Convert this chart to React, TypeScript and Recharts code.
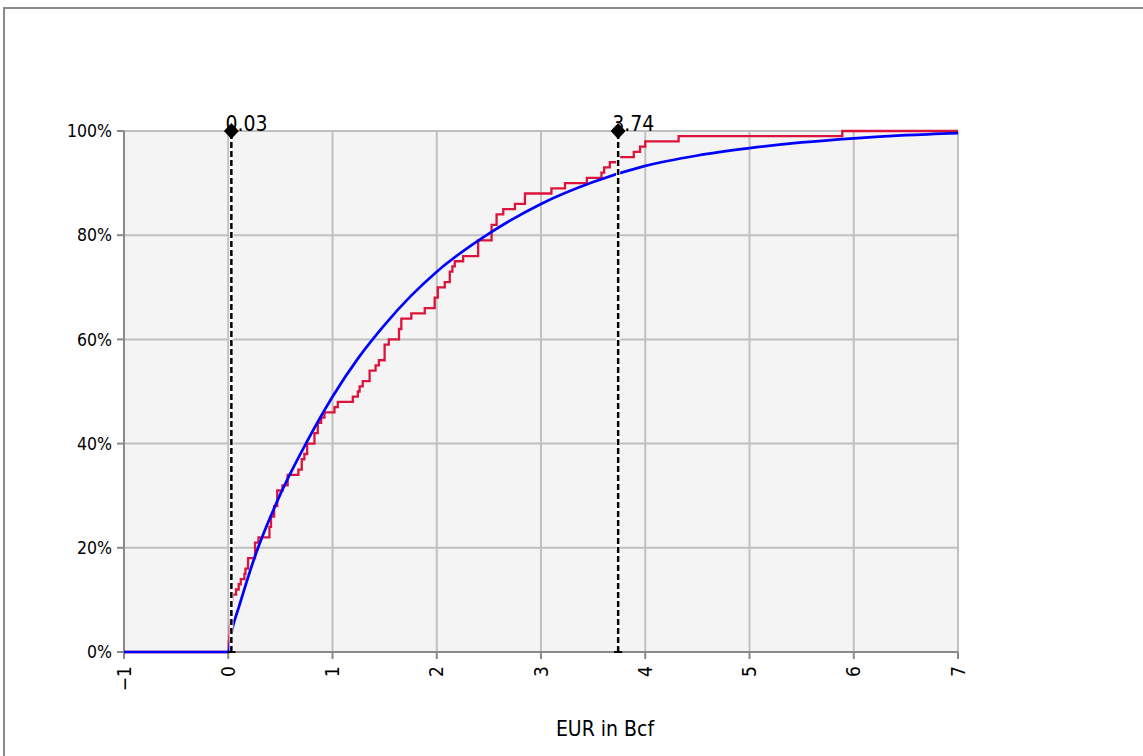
import { ComposedChart, Line, Scatter, XAxis, YAxis, CartesianGrid, ReferenceLine } from 'recharts';

const FONT = "Tahoma, 'DejaVu Sans Condensed', 'DejaVu Sans', sans-serif";

const xTicks = [-1, 0, 1, 2, 3, 4, 5, 6, 7];
const yTicks = [0, 20, 40, 60, 80, 100];

// empirical CDF: EUR (Bcf) where each step happens, cumulative % after the step
const stepEur = [
  -1, 0, 0.005, 0.01, 0.015, 0.02, 0.025, 0.03, 0.035, 0.04, 0.075, 0.1, 0.12, 0.155, 0.165, 0.19,
  0.257, 0.29, 0.395, 0.41, 0.44, 0.47, 0.52, 0.57, 0.673, 0.705, 0.73, 0.757, 0.827, 0.859, 0.891,
  0.923, 1.019, 1.051, 1.195, 1.243, 1.26, 1.29, 1.356, 1.413, 1.445, 1.5, 1.54, 1.638, 1.66, 1.756,
  1.885, 1.98, 2.01, 2.077, 2.125, 2.15, 2.173, 2.253, 2.397, 2.526, 2.574, 2.638, 2.75, 2.846, 3.1,
  3.23, 3.44, 3.58, 3.606, 3.66, 3.74, 3.89, 3.95, 4.0, 4.32, 5.89, 7,
];
const stepPct = [
  0, 0, 2, 3, 5, 6, 8, 9, 10, 11, 12, 13, 14, 15, 16, 18,
  21, 22, 24, 26, 28, 31, 32, 34, 35, 37, 38, 40, 42, 44, 45,
  46, 47, 48, 49, 50, 51, 52, 54, 55, 56, 59, 60, 62, 64, 65,
  66, 68, 70, 71, 73, 74, 75, 76, 79, 82, 84, 85, 86, 88, 89,
  90, 91, 92, 93, 94, 95, 96, 97, 98, 99, 100, 100,
];

// fitted distribution CDF
const fitEur = [-1, 0, 0.04, 0.1, 0.25, 0.5, 0.75, 1, 1.25, 1.5, 1.75, 2, 2.5, 3, 3.5, 4, 4.5, 5, 5.5, 6, 6.5, 7];
const fitPct = [0, 0, 4.5, 8.5, 18, 30.3, 40.2, 49, 56.5, 62.8, 68.3, 73, 80.3, 86, 90.2, 93.3, 95.3, 96.7, 97.8, 98.6, 99.2, 99.6];

// P10 / P90 markers
const markerEur = [0.03, 3.74];

const empirical = stepEur.map((x, i) => ({ x, p: stepPct[i] }));
const fitted = fitEur.map((x, i) => ({ x, p: fitPct[i] }));
const markers = markerEur.map((x) => ({ x, p: 100 }));

function XTick({ x, y, payload }: any) {
  return (
    <text
      x={x}
      y={y}
      transform={`rotate(-90, ${x}, ${y})`}
      textAnchor="end"
      dy="0.35em"
      fontSize={19}
      fontFamily={FONT}
      fill="#000"
    >
      {String(payload.value).replace('-', '\u2212')}
    </text>
  );
}

const dropLine = (props: any) => {
  const { x1, y1, x2, y2 } = props;
  const bottom = Math.max(y1, y2);
  return (
    <g>
      <line x1={x1} y1={y1} x2={x2} y2={y2} stroke="#fff" strokeWidth={4} />
      <line x1={x1} y1={y1} x2={x2} y2={y2} stroke="#000" strokeWidth={2.5} strokeDasharray="6 3" />
      <line x1={x1 - 4} y1={bottom} x2={x1 + 4} y2={bottom} stroke="#000" strokeWidth={2} />
    </g>
  );
};

const Marker = (props: any) => {
  const { cx, cy, payload } = props;
  return (
    <g>
      <text x={cx - 6} y={cy} fontSize={21} fontFamily={FONT} fill="#000">
        {payload.x.toFixed(2)}
      </text>
      <polygon points={`${cx},${cy - 8} ${cx + 7.5},${cy} ${cx},${cy + 8} ${cx - 7.5},${cy}`} fill="#000" />
    </g>
  );
};

export default function App() {
  return (
    <div style={{ position: 'absolute', left: 0, top: 0, width: 1143, height: 756, background: '#fff' }}>
      <div
        style={{
          position: 'absolute',
          left: 3,
          top: 7,
          width: 1140,
          height: 749,
          boxSizing: 'border-box',
          borderTop: '2px solid #8a8a8a',
          borderLeft: '2px solid #8a8a8a',
        }}
      />
      <div style={{ position: 'absolute', left: 0, top: 0 }}>
        <ComposedChart width={1143} height={756} margin={{ top: 131, right: 185, bottom: 44, left: 24 }}>
          <CartesianGrid stroke="#c0c0c0" strokeWidth={2} fill="#f4f4f4" />
          <XAxis
            type="number"
            dataKey="x"
            domain={[-1, 7]}
            ticks={xTicks}
            allowDataOverflow
            height={60}
            tickSize={7}
            tickMargin={7}
            tick={<XTick />}
            axisLine={{ stroke: '#8a8a8a', strokeWidth: 2 }}
            tickLine={{ stroke: '#8a8a8a', strokeWidth: 2 }}
            label={{ value: 'EUR in Bcf', position: 'bottom', offset: 9, dx: 64, fill: '#000', fontSize: 21, fontFamily: FONT }}
          />
          <YAxis
            type="number"
            domain={[0, 100]}
            ticks={yTicks}
            width={100}
            tickSize={7}
            tickMargin={5}
            tickFormatter={(v: number) => `${v}%`}
            tick={{ fill: '#000', fontSize: 17.5, fontFamily: FONT }}
            axisLine={{ stroke: '#8a8a8a', strokeWidth: 2 }}
            tickLine={{ stroke: '#8a8a8a', strokeWidth: 2 }}
          />
          <Line
            data={empirical}
            dataKey="p"
            type="stepAfter"
            stroke="#dc143c"
            strokeWidth={2.3}
            dot={false}
            isAnimationActive={false}
            zIndex={600}
          />
          <Line
            data={fitted}
            dataKey="p"
            type="monotone"
            stroke="#0000ff"
            strokeWidth={2.7}
            dot={false}
            isAnimationActive={false}
            zIndex={610}
          />
          {markerEur.map((v) => (
            <ReferenceLine key={v} x={v} shape={dropLine} zIndex={620} />
          ))}
          <Scatter data={markers} dataKey="p" shape={<Marker />} isAnimationActive={false} zIndex={630} />
        </ComposedChart>
      </div>
    </div>
  );
}
